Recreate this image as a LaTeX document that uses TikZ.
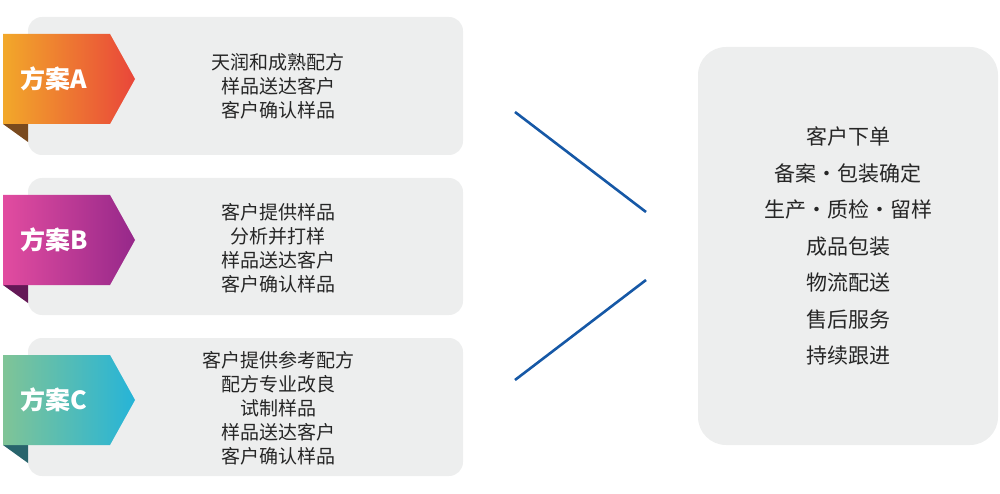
\documentclass[tikz,border=0pt]{standalone}
\usepackage{fontspec}
\setmainfont{Noto Sans CJK SC}
\usetikzlibrary{positioning}
\definecolor{boxgray}{RGB}{237,238,238}
\definecolor{lineblue}{RGB}{22,88,166}
\definecolor{aleft}{RGB}{242,168,42}
\definecolor{aright}{RGB}{233,70,58}
\definecolor{afold}{RGB}{122,74,30}
\definecolor{bleft}{RGB}{226,76,160}
\definecolor{bright}{RGB}{150,40,138}
\definecolor{bfold}{RGB}{100,24,86}
\definecolor{cleft}{RGB}{128,196,150}
\definecolor{cright}{RGB}{38,180,216}
\definecolor{cfold}{RGB}{40,100,108}
\tikzset{
  panel/.style={fill=boxgray, rounded corners=14pt},
  steps/.style={align=center, font=\fontsize{19}{24}\selectfont, text=black!85},
  tagtext/.style={text=white, font=\bfseries\fontsize{25}{28}\selectfont},
  link/.style={draw=lineblue, line width=2.6pt}
}
\newcommand{\plantag}[5]{% y top, left colour, right colour, fold colour, label
  \fill[#4] (3,#1+90) -- (28,#1+90) -- (28,#1+108) -- cycle;
  \shade[left color=#2, right color=#3] (3,#1) -- (110,#1) -- (135,#1+45) -- (110,#1+90) -- (3,#1+90) -- cycle;
  \node[tagtext, anchor=west, inner sep=0pt] at (20,#1+45) {#5};
}
\begin{document}
\begin{tikzpicture}[x=1pt,y=-1pt]
\useasboundingbox (0,0) rectangle (1000,494);
\fill[panel] (28,17) rectangle (463,155);
\fill[panel] (28,178) rectangle (463,315);
\fill[panel] (28,338) rectangle (463,476);
\fill[panel, rounded corners=28pt] (698,47) rectangle (998,445);
\plantag{34}{aleft}{aright}{afold}{方案A}
\plantag{195}{bleft}{bright}{bfold}{方案B}
\plantag{355}{cleft}{cright}{cfold}{方案C}
\node (stepsA) [steps] at (278,86) {天润和成熟配方\\样品送达客户\\客户确认样品};
\node (stepsB) [steps] at (278,248) {客户提供样品\\分析并打样\\样品送达客户\\客户确认样品};
\node (stepsC) [steps] at (278,408) {客户提供参考配方\\配方专业改良\\试制样品\\样品送达客户\\客户确认样品};
\node (service) [steps, font=\fontsize{21}{36.5}\selectfont] at (848,246) {客户下单\\备案·包装确定\\生产·质检·留样\\成品包装\\物流配送\\售后服务\\持续跟进};
\coordinate (upA) at (515,112);
\coordinate (upB) at (646,212);
\coordinate (loA) at (646,280);
\coordinate (loB) at (515,380);
\draw[link] (upA) -- (upB);
\draw[link] (loA) -- (loB);
\end{tikzpicture}
\end{document}
